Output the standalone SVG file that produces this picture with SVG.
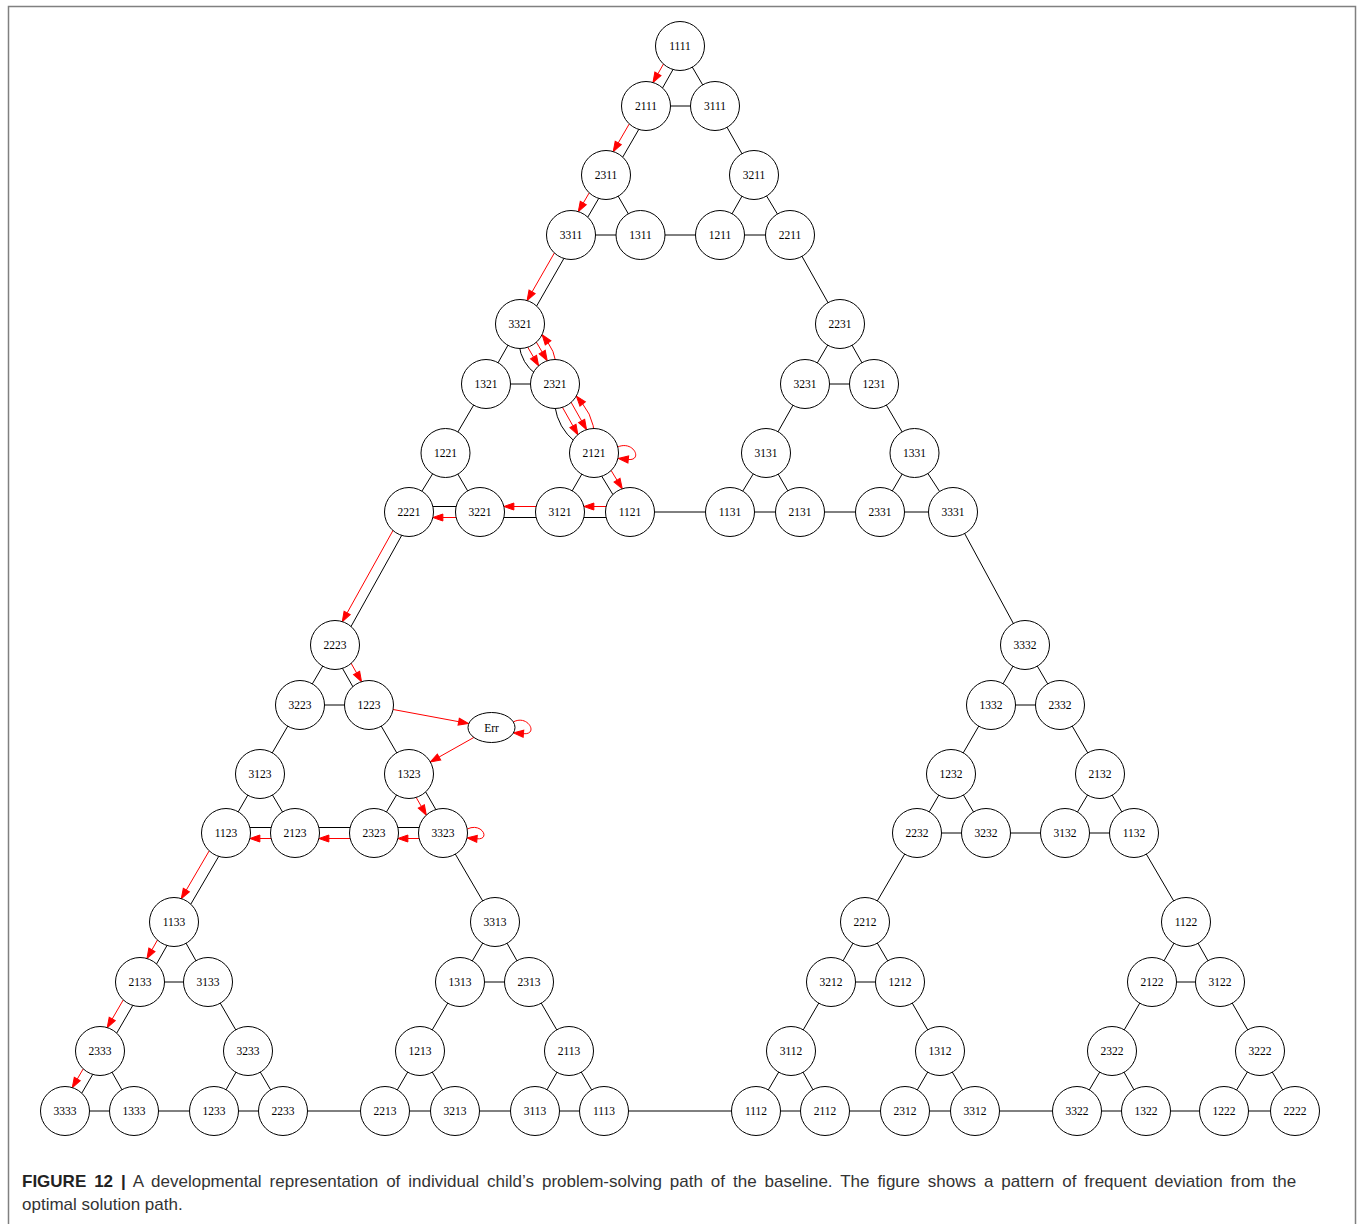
<svg xmlns="http://www.w3.org/2000/svg" width="1360" height="1224" viewBox="0 0 1360 1224">
<defs>
<style>
.e line,.e path{stroke:#000;stroke-width:1;fill:none}
.e .r{stroke:#f00;stroke-width:1;fill:none;marker-end:url(#ah)}
.n circle,.n ellipse{fill:#fff;stroke:#000;stroke-width:1}
.n text{font-family:"Liberation Serif","Times New Roman",serif;font-size:11.5px;text-anchor:middle;fill:#000}
.cap{font-family:"Liberation Sans",Arial,sans-serif;font-size:17px;fill:#333}
</style>
<marker id="ah" markerUnits="userSpaceOnUse" markerWidth="12" markerHeight="10" refX="0" refY="5" orient="auto" overflow="visible"><path d="M0,1.5 L10,5 L0,8.5 Z" fill="#f00" stroke="#f00" stroke-width="1"/></marker>
</defs>
<rect width="1360" height="1224" fill="#fff"/>
<path d="M8.5,1224 V6.5 H1355.5 V1224" fill="none" stroke="#808080" stroke-width="1.5"/>
<g id="connectors" class="e">
<line x1="680" y1="46" x2="715" y2="106"/>
<line x1="646" y1="106" x2="715" y2="106"/>
<line x1="715" y1="106" x2="754" y2="175"/>
<line x1="606" y1="175" x2="640.5" y2="235"/>
<line x1="571" y1="235" x2="640.5" y2="235"/>
<line x1="754" y1="175" x2="720" y2="235"/>
<line x1="754" y1="175" x2="790" y2="235"/>
<line x1="720" y1="235" x2="790" y2="235"/>
<line x1="640.5" y1="235" x2="720" y2="235"/>
<line x1="790" y1="235" x2="840" y2="324"/>
<line x1="520" y1="324" x2="486" y2="384"/>
<line x1="486" y1="384" x2="555" y2="384"/>
<line x1="486" y1="384" x2="445.5" y2="453"/>
<line x1="445.5" y1="453" x2="409" y2="512"/>
<line x1="445.5" y1="453" x2="480" y2="512"/>
<line x1="594" y1="453" x2="560" y2="512"/>
<line x1="630" y1="512" x2="730" y2="512"/>
<line x1="840" y1="324" x2="805" y2="384"/>
<line x1="840" y1="324" x2="874" y2="384"/>
<line x1="805" y1="384" x2="874" y2="384"/>
<line x1="805" y1="384" x2="766" y2="453"/>
<line x1="874" y1="384" x2="914.5" y2="453"/>
<line x1="766" y1="453" x2="730" y2="512"/>
<line x1="766" y1="453" x2="800" y2="512"/>
<line x1="730" y1="512" x2="800" y2="512"/>
<line x1="914.5" y1="453" x2="880" y2="512"/>
<line x1="914.5" y1="453" x2="953" y2="512"/>
<line x1="880" y1="512" x2="953" y2="512"/>
<line x1="800" y1="512" x2="880" y2="512"/>
<line x1="953" y1="512" x2="1025" y2="645"/>
<line x1="335" y1="645" x2="300" y2="705"/>
<line x1="300" y1="705" x2="369" y2="705"/>
<line x1="300" y1="705" x2="260" y2="774"/>
<line x1="369" y1="705" x2="409" y2="774"/>
<line x1="260" y1="774" x2="226" y2="833"/>
<line x1="260" y1="774" x2="295" y2="833"/>
<line x1="409" y1="774" x2="374" y2="833"/>
<line x1="443" y1="833" x2="495" y2="922"/>
<line x1="174" y1="922" x2="208" y2="982"/>
<line x1="140" y1="982" x2="208" y2="982"/>
<line x1="208" y1="982" x2="248" y2="1051"/>
<line x1="100" y1="1051" x2="134" y2="1111"/>
<line x1="65" y1="1111" x2="134" y2="1111"/>
<line x1="248" y1="1051" x2="214" y2="1111"/>
<line x1="248" y1="1051" x2="283" y2="1111"/>
<line x1="214" y1="1111" x2="283" y2="1111"/>
<line x1="134" y1="1111" x2="214" y2="1111"/>
<line x1="283" y1="1111" x2="385" y2="1111"/>
<line x1="495" y1="922" x2="460" y2="982"/>
<line x1="495" y1="922" x2="529" y2="982"/>
<line x1="460" y1="982" x2="529" y2="982"/>
<line x1="460" y1="982" x2="420" y2="1051"/>
<line x1="529" y1="982" x2="569" y2="1051"/>
<line x1="420" y1="1051" x2="385" y2="1111"/>
<line x1="420" y1="1051" x2="455" y2="1111"/>
<line x1="385" y1="1111" x2="455" y2="1111"/>
<line x1="569" y1="1051" x2="535" y2="1111"/>
<line x1="569" y1="1051" x2="604" y2="1111"/>
<line x1="535" y1="1111" x2="604" y2="1111"/>
<line x1="455" y1="1111" x2="535" y2="1111"/>
<line x1="604" y1="1111" x2="756" y2="1111"/>
<line x1="1025" y1="645" x2="991" y2="705"/>
<line x1="1025" y1="645" x2="1060" y2="705"/>
<line x1="991" y1="705" x2="1060" y2="705"/>
<line x1="991" y1="705" x2="951" y2="774"/>
<line x1="1060" y1="705" x2="1100" y2="774"/>
<line x1="951" y1="774" x2="917" y2="833"/>
<line x1="951" y1="774" x2="986" y2="833"/>
<line x1="917" y1="833" x2="986" y2="833"/>
<line x1="1100" y1="774" x2="1065" y2="833"/>
<line x1="1100" y1="774" x2="1134" y2="833"/>
<line x1="1065" y1="833" x2="1134" y2="833"/>
<line x1="986" y1="833" x2="1065" y2="833"/>
<line x1="917" y1="833" x2="865" y2="922"/>
<line x1="1134" y1="833" x2="1186" y2="922"/>
<line x1="865" y1="922" x2="831" y2="982"/>
<line x1="865" y1="922" x2="900" y2="982"/>
<line x1="831" y1="982" x2="900" y2="982"/>
<line x1="831" y1="982" x2="791" y2="1051"/>
<line x1="900" y1="982" x2="940" y2="1051"/>
<line x1="791" y1="1051" x2="756" y2="1111"/>
<line x1="791" y1="1051" x2="825" y2="1111"/>
<line x1="756" y1="1111" x2="825" y2="1111"/>
<line x1="940" y1="1051" x2="905" y2="1111"/>
<line x1="940" y1="1051" x2="975" y2="1111"/>
<line x1="905" y1="1111" x2="975" y2="1111"/>
<line x1="825" y1="1111" x2="905" y2="1111"/>
<line x1="975" y1="1111" x2="1077" y2="1111"/>
<line x1="1186" y1="922" x2="1152" y2="982"/>
<line x1="1186" y1="922" x2="1220" y2="982"/>
<line x1="1152" y1="982" x2="1220" y2="982"/>
<line x1="1152" y1="982" x2="1112" y2="1051"/>
<line x1="1220" y1="982" x2="1260" y2="1051"/>
<line x1="1112" y1="1051" x2="1077" y2="1111"/>
<line x1="1112" y1="1051" x2="1146" y2="1111"/>
<line x1="1077" y1="1111" x2="1146" y2="1111"/>
<line x1="1260" y1="1051" x2="1224" y2="1111"/>
<line x1="1260" y1="1051" x2="1295" y2="1111"/>
<line x1="1224" y1="1111" x2="1295" y2="1111"/>
<line x1="1146" y1="1111" x2="1224" y2="1111"/>
<line x1="684.79" y1="48.71" x2="650.79" y2="108.71"/>
<line x1="650.76" y1="108.76" x2="610.76" y2="177.76"/>
<line x1="610.75" y1="177.77" x2="575.75" y2="237.77"/>
<line x1="575.77" y1="237.73" x2="524.77" y2="326.73"/>
<path d="M520,324 Q511.59,369.12 555,384"/>
<path d="M555,384 Q548.38,433.26 594,453"/>
<line x1="589.31" y1="455.86" x2="625.31" y2="514.86"/>
<line x1="630" y1="517.5" x2="560" y2="517.5"/>
<line x1="560" y1="517.5" x2="480" y2="517.5"/>
<line x1="480" y1="506.5" x2="409" y2="506.5"/>
<line x1="413.37" y1="514.43" x2="339.37" y2="647.43"/>
<line x1="330.65" y1="647.47" x2="364.65" y2="707.47"/>
<line x1="413.77" y1="771.25" x2="447.77" y2="830.25"/>
<line x1="443" y1="827.5" x2="374" y2="827.5"/>
<line x1="374" y1="827.5" x2="295" y2="827.5"/>
<line x1="295" y1="827.5" x2="226" y2="827.5"/>
<line x1="230.75" y1="835.77" x2="178.75" y2="924.77"/>
<line x1="178.79" y1="924.71" x2="144.79" y2="984.71"/>
<line x1="144.76" y1="984.76" x2="104.76" y2="1053.76"/>
<line x1="104.75" y1="1053.77" x2="69.75" y2="1113.77"/>
<path class="r" d="M675.21,43.29 L657.91,73.82"/>
<path class="r" d="M641.24,103.24 L618.23,142.94"/>
<path class="r" d="M601.25,172.23 L583.32,202.97"/>
<path class="r" d="M566.23,232.27 L532.07,291.88"/>
<path class="r" d="M515.68,326.52 L533.56,357.17"/>
<path class="r" d="M524.32,321.48 L542.2,352.13"/>
<path class="r" d="M555,384 Q559.73,358.64 548.08,342.83"/>
<path class="r" d="M550.65,386.46 L572.93,425.88"/>
<path class="r" d="M559.35,381.54 L581.63,420.96"/>
<path class="r" d="M594,453 Q598.04,422.95 582.65,403.89"/>
<path class="r" d="M617.5,447 C634,440 643,461 628.3,459.5"/>
<path class="r" d="M598.69,450.14 L617.05,480.23"/>
<path class="r" d="M630,506.5 L593.87,506.5"/>
<path class="r" d="M560,506.5 L513.87,506.5"/>
<path class="r" d="M480,517.5 L442.87,517.5"/>
<path class="r" d="M404.63,509.57 L347.15,612.88"/>
<path class="r" d="M339.35,642.53 L356.6,672.96"/>
<path class="r" d="M369,705 L458.67,721.67"/>
<path class="r" d="M513.2,722 C528,714 539,735 523.45,733.7"/>
<path class="r" d="M491.5,727.5 L439.05,757.06"/>
<path class="r" d="M404.23,776.75 L421.32,806.41"/>
<path class="r" d="M467.2,829 C482,822 491,840 477,838.8"/>
<path class="r" d="M443,838.5 L407.87,838.5"/>
<path class="r" d="M374,838.5 L328.87,838.5"/>
<path class="r" d="M295,838.5 L259.87,838.5"/>
<path class="r" d="M221.25,830.23 L186.34,889.99"/>
<path class="r" d="M169.21,919.29 L151.91,949.82"/>
<path class="r" d="M135.24,979.24 L112.23,1018.94"/>
<path class="r" d="M95.25,1048.23 L77.32,1078.97"/>
</g>
<g id="nodes" class="n">
<g id="n1111"><circle cx="680" cy="46" r="24.5"/><text x="680" y="50">1111</text></g>
<g id="n2111"><circle cx="646" cy="106" r="24.5"/><text x="646" y="110">2111</text></g>
<g id="n3111"><circle cx="715" cy="106" r="24.5"/><text x="715" y="110">3111</text></g>
<g id="n2311"><circle cx="606" cy="175" r="24.5"/><text x="606" y="179">2311</text></g>
<g id="n3211"><circle cx="754" cy="175" r="24.5"/><text x="754" y="179">3211</text></g>
<g id="n3311"><circle cx="571" cy="235" r="24.5"/><text x="571" y="239">3311</text></g>
<g id="n1311"><circle cx="640.5" cy="235" r="24.5"/><text x="640.5" y="239">1311</text></g>
<g id="n1211"><circle cx="720" cy="235" r="24.5"/><text x="720" y="239">1211</text></g>
<g id="n2211"><circle cx="790" cy="235" r="24.5"/><text x="790" y="239">2211</text></g>
<g id="n3321"><circle cx="520" cy="324" r="24.5"/><text x="520" y="328">3321</text></g>
<g id="n1321"><circle cx="486" cy="384" r="24.5"/><text x="486" y="388">1321</text></g>
<g id="n2321"><circle cx="555" cy="384" r="24.5"/><text x="555" y="388">2321</text></g>
<g id="n1221"><circle cx="445.5" cy="453" r="24.5"/><text x="445.5" y="457">1221</text></g>
<g id="n2121"><circle cx="594" cy="453" r="24.5"/><text x="594" y="457">2121</text></g>
<g id="n2221"><circle cx="409" cy="512" r="24.5"/><text x="409" y="516">2221</text></g>
<g id="n3221"><circle cx="480" cy="512" r="24.5"/><text x="480" y="516">3221</text></g>
<g id="n3121"><circle cx="560" cy="512" r="24.5"/><text x="560" y="516">3121</text></g>
<g id="n1121"><circle cx="630" cy="512" r="24.5"/><text x="630" y="516">1121</text></g>
<g id="n2231"><circle cx="840" cy="324" r="24.5"/><text x="840" y="328">2231</text></g>
<g id="n3231"><circle cx="805" cy="384" r="24.5"/><text x="805" y="388">3231</text></g>
<g id="n1231"><circle cx="874" cy="384" r="24.5"/><text x="874" y="388">1231</text></g>
<g id="n3131"><circle cx="766" cy="453" r="24.5"/><text x="766" y="457">3131</text></g>
<g id="n1331"><circle cx="914.5" cy="453" r="24.5"/><text x="914.5" y="457">1331</text></g>
<g id="n1131"><circle cx="730" cy="512" r="24.5"/><text x="730" y="516">1131</text></g>
<g id="n2131"><circle cx="800" cy="512" r="24.5"/><text x="800" y="516">2131</text></g>
<g id="n2331"><circle cx="880" cy="512" r="24.5"/><text x="880" y="516">2331</text></g>
<g id="n3331"><circle cx="953" cy="512" r="24.5"/><text x="953" y="516">3331</text></g>
<g id="n2223"><circle cx="335" cy="645" r="24.5"/><text x="335" y="649">2223</text></g>
<g id="n3223"><circle cx="300" cy="705" r="24.5"/><text x="300" y="709">3223</text></g>
<g id="n1223"><circle cx="369" cy="705" r="24.5"/><text x="369" y="709">1223</text></g>
<g id="n3123"><circle cx="260" cy="774" r="24.5"/><text x="260" y="778">3123</text></g>
<g id="n1323"><circle cx="409" cy="774" r="24.5"/><text x="409" y="778">1323</text></g>
<g id="n1123"><circle cx="226" cy="833" r="24.5"/><text x="226" y="837">1123</text></g>
<g id="n2123"><circle cx="295" cy="833" r="24.5"/><text x="295" y="837">2123</text></g>
<g id="n2323"><circle cx="374" cy="833" r="24.5"/><text x="374" y="837">2323</text></g>
<g id="n3323"><circle cx="443" cy="833" r="24.5"/><text x="443" y="837">3323</text></g>
<g id="n1133"><circle cx="174" cy="922" r="24.5"/><text x="174" y="926">1133</text></g>
<g id="n2133"><circle cx="140" cy="982" r="24.5"/><text x="140" y="986">2133</text></g>
<g id="n3133"><circle cx="208" cy="982" r="24.5"/><text x="208" y="986">3133</text></g>
<g id="n2333"><circle cx="100" cy="1051" r="24.5"/><text x="100" y="1055">2333</text></g>
<g id="n3233"><circle cx="248" cy="1051" r="24.5"/><text x="248" y="1055">3233</text></g>
<g id="n3333"><circle cx="65" cy="1111" r="24.5"/><text x="65" y="1115">3333</text></g>
<g id="n1333"><circle cx="134" cy="1111" r="24.5"/><text x="134" y="1115">1333</text></g>
<g id="n1233"><circle cx="214" cy="1111" r="24.5"/><text x="214" y="1115">1233</text></g>
<g id="n2233"><circle cx="283" cy="1111" r="24.5"/><text x="283" y="1115">2233</text></g>
<g id="n3313"><circle cx="495" cy="922" r="24.5"/><text x="495" y="926">3313</text></g>
<g id="n1313"><circle cx="460" cy="982" r="24.5"/><text x="460" y="986">1313</text></g>
<g id="n2313"><circle cx="529" cy="982" r="24.5"/><text x="529" y="986">2313</text></g>
<g id="n1213"><circle cx="420" cy="1051" r="24.5"/><text x="420" y="1055">1213</text></g>
<g id="n2113"><circle cx="569" cy="1051" r="24.5"/><text x="569" y="1055">2113</text></g>
<g id="n2213"><circle cx="385" cy="1111" r="24.5"/><text x="385" y="1115">2213</text></g>
<g id="n3213"><circle cx="455" cy="1111" r="24.5"/><text x="455" y="1115">3213</text></g>
<g id="n3113"><circle cx="535" cy="1111" r="24.5"/><text x="535" y="1115">3113</text></g>
<g id="n1113"><circle cx="604" cy="1111" r="24.5"/><text x="604" y="1115">1113</text></g>
<g id="n3332"><circle cx="1025" cy="645" r="24.5"/><text x="1025" y="649">3332</text></g>
<g id="n1332"><circle cx="991" cy="705" r="24.5"/><text x="991" y="709">1332</text></g>
<g id="n2332"><circle cx="1060" cy="705" r="24.5"/><text x="1060" y="709">2332</text></g>
<g id="n1232"><circle cx="951" cy="774" r="24.5"/><text x="951" y="778">1232</text></g>
<g id="n2132"><circle cx="1100" cy="774" r="24.5"/><text x="1100" y="778">2132</text></g>
<g id="n2232"><circle cx="917" cy="833" r="24.5"/><text x="917" y="837">2232</text></g>
<g id="n3232"><circle cx="986" cy="833" r="24.5"/><text x="986" y="837">3232</text></g>
<g id="n3132"><circle cx="1065" cy="833" r="24.5"/><text x="1065" y="837">3132</text></g>
<g id="n1132"><circle cx="1134" cy="833" r="24.5"/><text x="1134" y="837">1132</text></g>
<g id="n2212"><circle cx="865" cy="922" r="24.5"/><text x="865" y="926">2212</text></g>
<g id="n3212"><circle cx="831" cy="982" r="24.5"/><text x="831" y="986">3212</text></g>
<g id="n1212"><circle cx="900" cy="982" r="24.5"/><text x="900" y="986">1212</text></g>
<g id="n3112"><circle cx="791" cy="1051" r="24.5"/><text x="791" y="1055">3112</text></g>
<g id="n1312"><circle cx="940" cy="1051" r="24.5"/><text x="940" y="1055">1312</text></g>
<g id="n1112"><circle cx="756" cy="1111" r="24.5"/><text x="756" y="1115">1112</text></g>
<g id="n2112"><circle cx="825" cy="1111" r="24.5"/><text x="825" y="1115">2112</text></g>
<g id="n2312"><circle cx="905" cy="1111" r="24.5"/><text x="905" y="1115">2312</text></g>
<g id="n3312"><circle cx="975" cy="1111" r="24.5"/><text x="975" y="1115">3312</text></g>
<g id="n1122"><circle cx="1186" cy="922" r="24.5"/><text x="1186" y="926">1122</text></g>
<g id="n2122"><circle cx="1152" cy="982" r="24.5"/><text x="1152" y="986">2122</text></g>
<g id="n3122"><circle cx="1220" cy="982" r="24.5"/><text x="1220" y="986">3122</text></g>
<g id="n2322"><circle cx="1112" cy="1051" r="24.5"/><text x="1112" y="1055">2322</text></g>
<g id="n3222"><circle cx="1260" cy="1051" r="24.5"/><text x="1260" y="1055">3222</text></g>
<g id="n3322"><circle cx="1077" cy="1111" r="24.5"/><text x="1077" y="1115">3322</text></g>
<g id="n1322"><circle cx="1146" cy="1111" r="24.5"/><text x="1146" y="1115">1322</text></g>
<g id="n1222"><circle cx="1224" cy="1111" r="24.5"/><text x="1224" y="1115">1222</text></g>
<g id="n2222"><circle cx="1295" cy="1111" r="24.5"/><text x="1295" y="1115">2222</text></g>
<g id="nErr"><ellipse cx="491.5" cy="727.5" rx="23.5" ry="15"/><text x="491.5" y="731.5">Err</text></g>
</g>
<g id="caption" class="cap">
<text x="22" y="1187" word-spacing="3.2"><tspan font-weight="bold" fill="#222">FIGURE 12 |</tspan> A developmental representation of individual child’s problem-solving path of the baseline. The figure shows a pattern of frequent deviation from the</text>
<text x="22" y="1210">optimal solution path.</text>
</g>
</svg>
